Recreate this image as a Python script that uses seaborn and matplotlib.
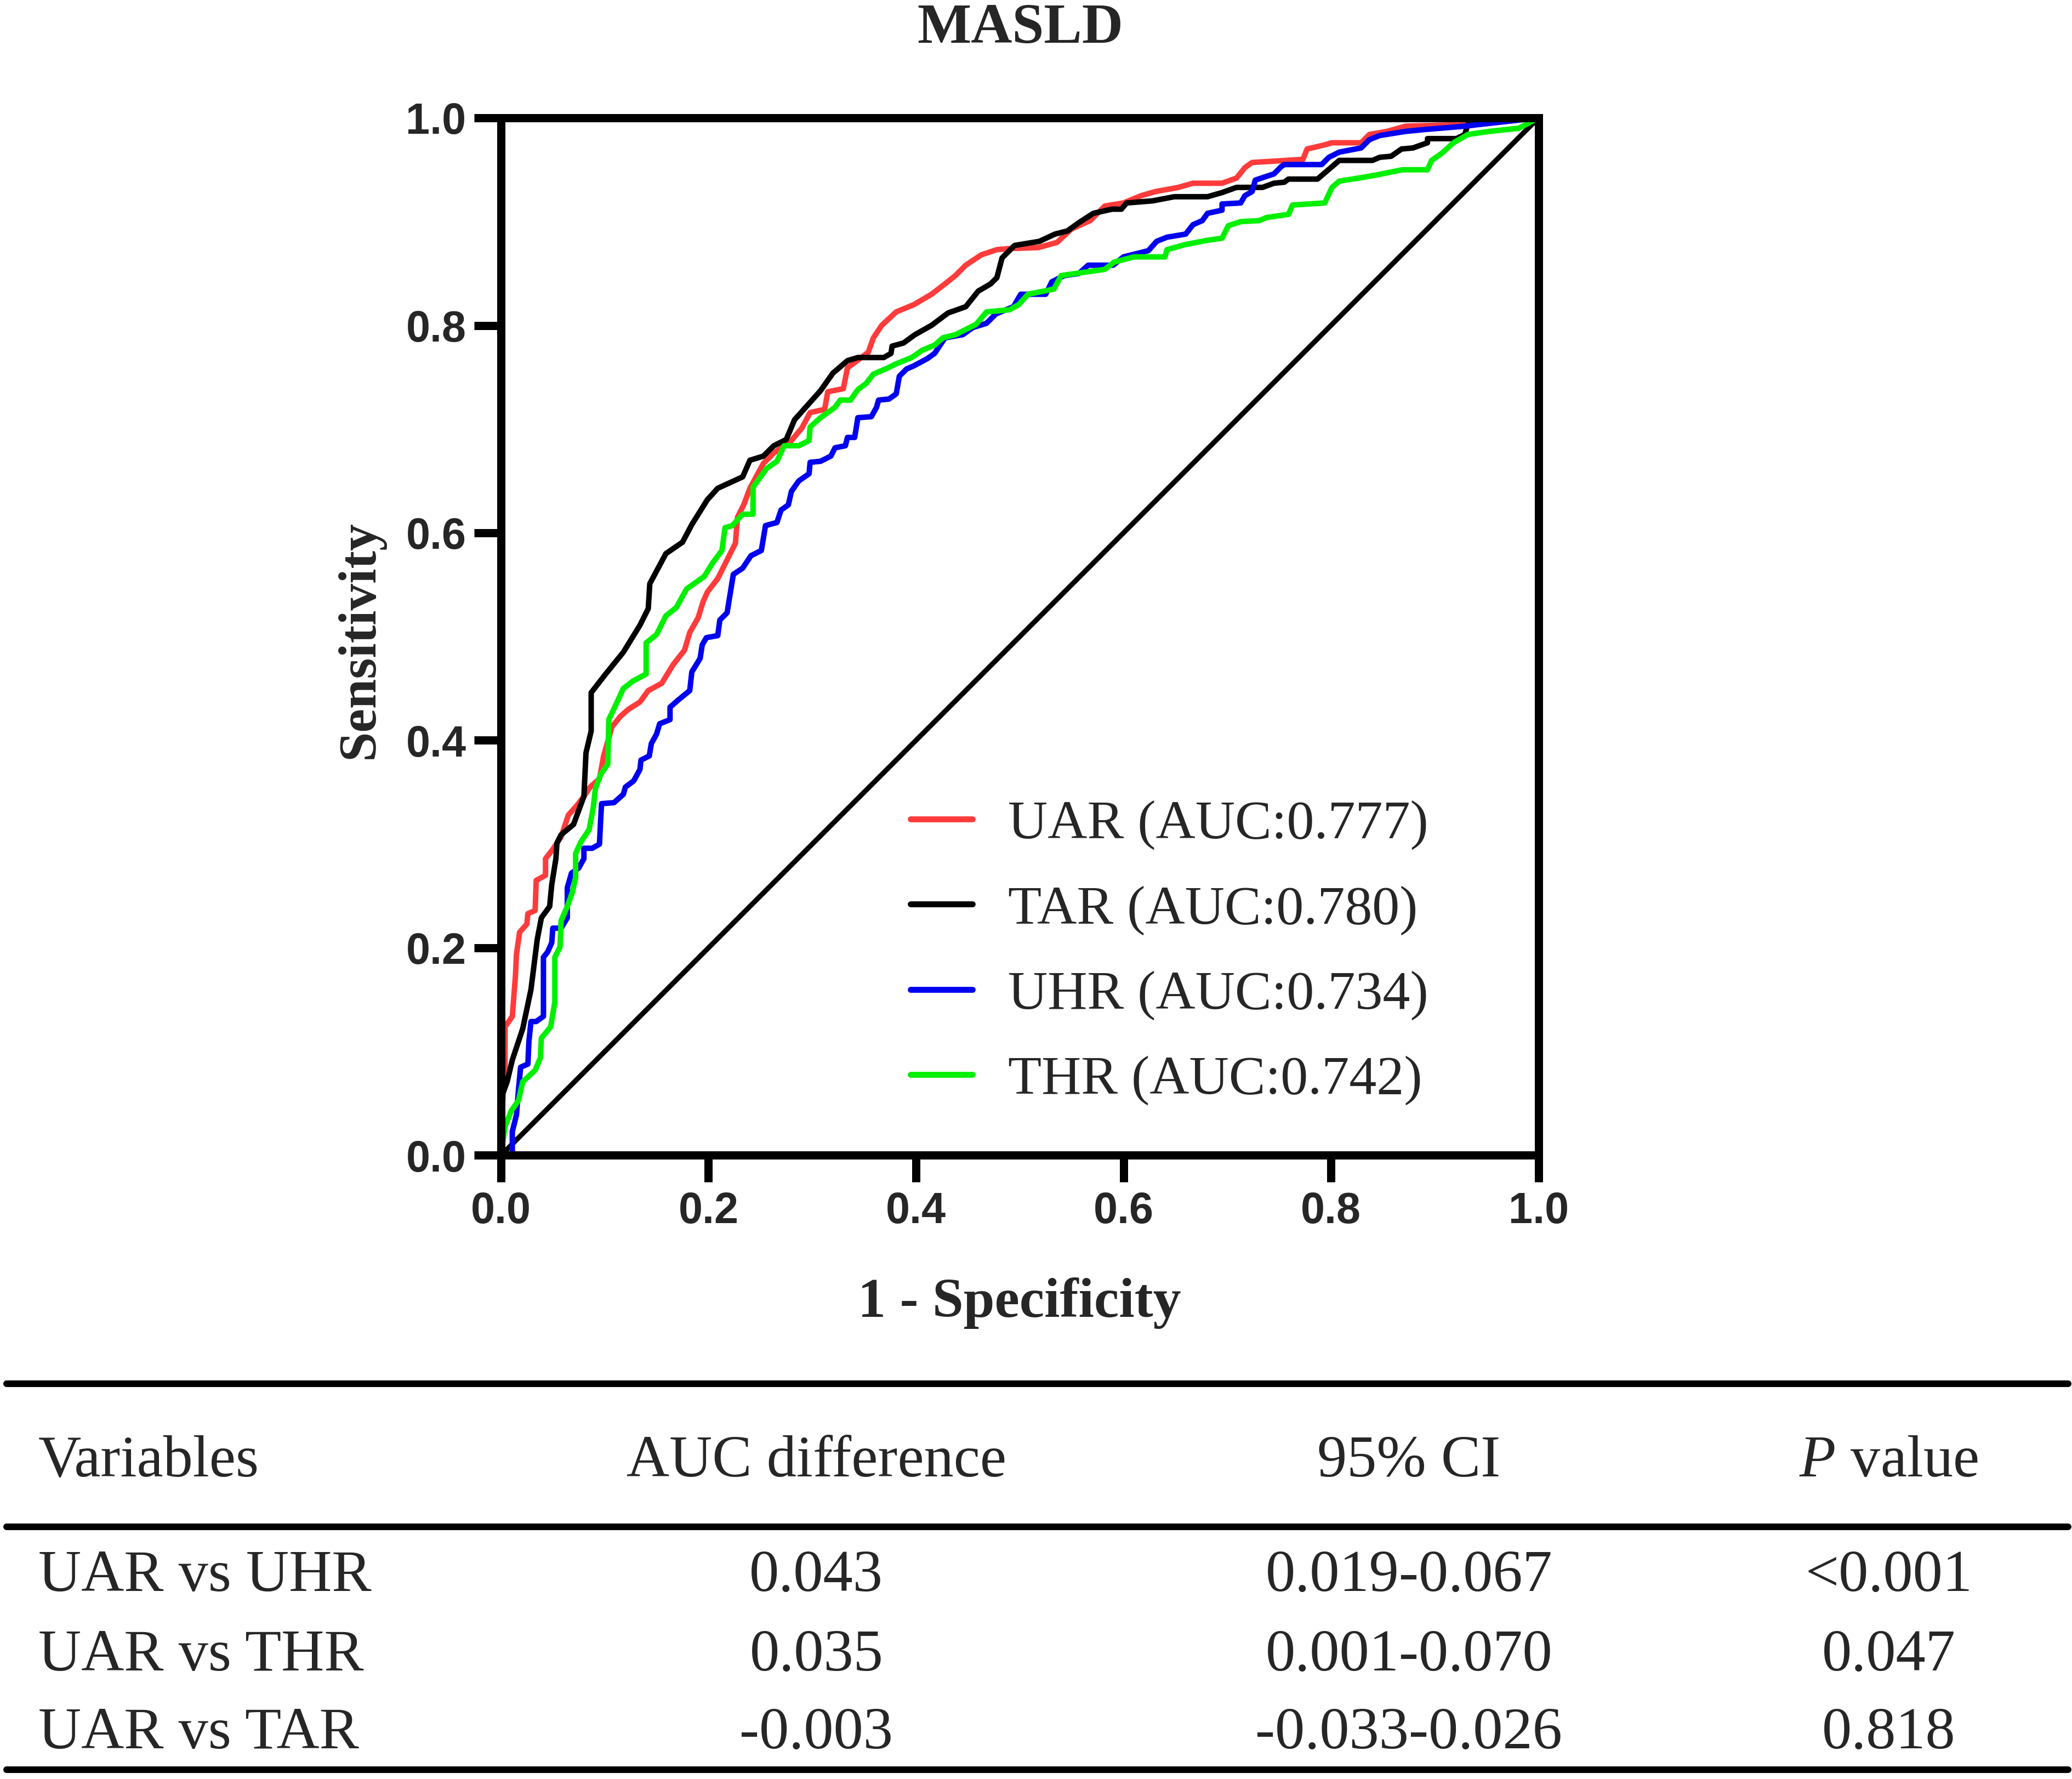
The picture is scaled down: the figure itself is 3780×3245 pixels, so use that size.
import seaborn as sns
import matplotlib.pyplot as plt
from matplotlib.lines import Line2D
from matplotlib.ticker import MultipleLocator, FormatStrFormatter

# ROC curves (1 - specificity, sensitivity)
uar_fpr = [0, 0.002, 0.004, 0.004, 0.011, 0.014, 0.015, 0.018, 0.025, 0.026, 0.033, 0.034, 0.043, 0.043,
           0.050, 0.058, 0.065, 0.073, 0.080, 0.086, 0.095, 0.099, 0.107, 0.115, 0.123, 0.134, 0.142, 0.155,
           0.166, 0.177, 0.182, 0.190, 0.195, 0.199, 0.209, 0.216, 0.226, 0.228, 0.234, 0.240, 0.253, 0.263,
           0.280, 0.290, 0.298, 0.312, 0.315, 0.330, 0.334, 0.354, 0.359, 0.367, 0.381, 0.398, 0.415, 0.428,
           0.438, 0.448, 0.463, 0.478, 0.490, 0.518, 0.536, 0.550, 0.568, 0.582, 0.600, 0.617, 0.631, 0.653,
           0.667, 0.695, 0.709, 0.717, 0.724, 0.773, 0.777, 0.794, 0.801, 0.829, 0.837, 0.854, 0.872, 0.945, 1.0]
uar_tpr = [0, 0.071, 0.076, 0.124, 0.134, 0.173, 0.194, 0.215, 0.223, 0.233, 0.236, 0.265, 0.270, 0.286,
           0.295, 0.307, 0.328, 0.337, 0.346, 0.355, 0.363, 0.385, 0.413, 0.423, 0.430, 0.437, 0.448, 0.455,
           0.473, 0.487, 0.504, 0.518, 0.534, 0.543, 0.556, 0.570, 0.590, 0.615, 0.627, 0.643, 0.667, 0.677,
           0.689, 0.701, 0.716, 0.719, 0.736, 0.739, 0.759, 0.774, 0.788, 0.800, 0.813, 0.820, 0.830, 0.840,
           0.848, 0.858, 0.868, 0.873, 0.874, 0.875, 0.880, 0.893, 0.901, 0.915, 0.918, 0.925, 0.929, 0.933,
           0.937, 0.937, 0.942, 0.952, 0.957, 0.960, 0.970, 0.974, 0.976, 0.976, 0.984, 0.987, 0.992, 0.994, 1.0]

tar_fpr = [0, 0.002, 0.006, 0.011, 0.021, 0.029, 0.035, 0.039, 0.047, 0.049, 0.053, 0.054, 0.058, 0.070,
           0.080, 0.082, 0.087, 0.087, 0.101, 0.118, 0.134, 0.142, 0.1435, 0.159, 0.175, 0.184, 0.199, 0.209,
           0.233, 0.240, 0.253, 0.263, 0.275, 0.283, 0.308, 0.320, 0.334, 0.344, 0.369, 0.376, 0.377, 0.388,
           0.399, 0.415, 0.431, 0.448, 0.460, 0.472, 0.478, 0.483, 0.495, 0.519, 0.534, 0.546, 0.557, 0.571,
           0.589, 0.598, 0.603, 0.628, 0.649, 0.681, 0.695, 0.709, 0.734, 0.745, 0.755, 0.759, 0.787, 0.794,
           0.808, 0.840, 0.847, 0.858, 0.868, 0.879, 0.893, 0.893, 0.921, 0.929, 0.932, 0.943, 1.0]
tar_tpr = [0, 0.060, 0.071, 0.092, 0.122, 0.160, 0.208, 0.229, 0.240, 0.261, 0.286, 0.301, 0.309, 0.319,
           0.346, 0.388, 0.409, 0.446, 0.464, 0.485, 0.511, 0.527, 0.551, 0.580, 0.591, 0.608, 0.632, 0.643,
           0.654, 0.670, 0.674, 0.684, 0.690, 0.709, 0.737, 0.754, 0.766, 0.769, 0.769, 0.773, 0.780, 0.783,
           0.791, 0.800, 0.812, 0.818, 0.833, 0.840, 0.846, 0.865, 0.877, 0.881, 0.888, 0.891, 0.899, 0.908,
           0.912, 0.912, 0.918, 0.920, 0.924, 0.924, 0.928, 0.933, 0.933, 0.937, 0.938, 0.941, 0.941, 0.947,
           0.959, 0.959, 0.962, 0.963, 0.970, 0.971, 0.976, 0.980, 0.980, 0.984, 0.994, 0.996, 1.0]

uhr_fpr = [0, 0.011, 0.011, 0.015, 0.017, 0.019, 0.026, 0.027, 0.029, 0.034, 0.041, 0.041, 0.045, 0.049,
           0.050, 0.058, 0.064, 0.064, 0.068, 0.075, 0.080, 0.080, 0.088, 0.095, 0.096, 0.097, 0.109, 0.118,
           0.120, 0.128, 0.134, 0.135, 0.143, 0.145, 0.150, 0.153, 0.163, 0.163, 0.171, 0.182, 0.184, 0.192,
           0.194, 0.198, 0.209, 0.211, 0.218, 0.224, 0.233, 0.241, 0.251, 0.255, 0.266, 0.270, 0.277, 0.280,
           0.287, 0.297, 0.298, 0.308, 0.318, 0.322, 0.332, 0.334, 0.341, 0.344, 0.357, 0.362, 0.364, 0.374,
           0.381, 0.384, 0.391, 0.398, 0.411, 0.418, 0.428, 0.445, 0.455, 0.468, 0.477, 0.494, 0.501, 0.525,
           0.531, 0.543, 0.557, 0.566, 0.590, 0.600, 0.624, 0.632, 0.642, 0.660, 0.667, 0.676, 0.681, 0.695,
           0.695, 0.713, 0.717, 0.724, 0.727, 0.745, 0.752, 0.755, 0.791, 0.798, 0.808, 0.829, 0.837, 0.847,
           0.872, 0.893, 0.929, 0.946, 1.0]
uhr_tpr = [0, 0.0, 0.023, 0.039, 0.064, 0.085, 0.088, 0.110, 0.129, 0.129, 0.134, 0.191, 0.196, 0.205,
           0.219, 0.219, 0.229, 0.258, 0.272, 0.277, 0.286, 0.296, 0.296, 0.300, 0.321, 0.339, 0.340, 0.348,
           0.355, 0.361, 0.372, 0.381, 0.385, 0.397, 0.406, 0.416, 0.420, 0.432, 0.439, 0.448, 0.466, 0.479,
           0.492, 0.499, 0.501, 0.516, 0.523, 0.560, 0.566, 0.578, 0.583, 0.607, 0.610, 0.622, 0.627, 0.640,
           0.650, 0.657, 0.668, 0.669, 0.674, 0.682, 0.684, 0.692, 0.692, 0.711, 0.712, 0.721, 0.728, 0.729,
           0.734, 0.751, 0.758, 0.761, 0.768, 0.773, 0.788, 0.791, 0.798, 0.802, 0.811, 0.818, 0.830, 0.830,
           0.842, 0.848, 0.850, 0.858, 0.858, 0.866, 0.872, 0.881, 0.885, 0.888, 0.897, 0.901, 0.908, 0.911,
           0.917, 0.918, 0.925, 0.929, 0.940, 0.946, 0.953, 0.955, 0.955, 0.962, 0.967, 0.971, 0.979, 0.983,
           0.987, 0.989, 0.992, 0.994, 1.0]

thr_fpr = [0, 0.004, 0.010, 0.017, 0.021, 0.033, 0.038, 0.039, 0.048, 0.052, 0.052, 0.057, 0.058, 0.064,
           0.069, 0.072, 0.072, 0.077, 0.085, 0.089, 0.091, 0.096, 0.103, 0.104, 0.112, 0.118, 0.127, 0.140,
           0.140, 0.150, 0.159, 0.169, 0.179, 0.196, 0.204, 0.213, 0.216, 0.223, 0.233, 0.243, 0.243, 0.256,
           0.266, 0.273, 0.287, 0.297, 0.298, 0.308, 0.322, 0.327, 0.337, 0.344, 0.352, 0.359, 0.373, 0.381,
           0.396, 0.406, 0.418, 0.426, 0.438, 0.458, 0.468, 0.490, 0.499, 0.508, 0.533, 0.540, 0.554, 0.582,
           0.591, 0.610, 0.640, 0.642, 0.660, 0.681, 0.695, 0.701, 0.713, 0.731, 0.738, 0.759, 0.763, 0.794,
           0.801, 0.808, 0.833, 0.844, 0.869, 0.893, 0.897, 0.907, 0.918, 0.932, 0.953, 0.981, 1.0]
thr_tpr = [0, 0.028, 0.043, 0.053, 0.071, 0.082, 0.094, 0.113, 0.124, 0.148, 0.191, 0.201, 0.226, 0.240,
           0.254, 0.268, 0.291, 0.302, 0.314, 0.335, 0.353, 0.367, 0.377, 0.420, 0.437, 0.450, 0.457, 0.464,
           0.494, 0.502, 0.520, 0.528, 0.546, 0.558, 0.571, 0.583, 0.605, 0.607, 0.618, 0.618, 0.644, 0.662,
           0.669, 0.684, 0.684, 0.689, 0.702, 0.711, 0.721, 0.728, 0.728, 0.738, 0.744, 0.753, 0.759, 0.763,
           0.769, 0.776, 0.781, 0.788, 0.791, 0.801, 0.813, 0.815, 0.820, 0.830, 0.835, 0.848, 0.850, 0.854,
           0.861, 0.866, 0.866, 0.873, 0.878, 0.882, 0.884, 0.896, 0.900, 0.901, 0.904, 0.907, 0.916, 0.918,
           0.933, 0.939, 0.943, 0.945, 0.950, 0.950, 0.959, 0.966, 0.976, 0.984, 0.987, 0.990, 1.0]

chance_line = [0, 1]

curve_names = ["UAR", "TAR", "UHR", "THR"]
curve_auc = ["0.777", "0.780", "0.734", "0.742"]
curve_colors = ["#FF3B3B", "#000000", "#0000F0", "#00F000"]

# comparison table below the chart
table_header = ["Variables", "AUC difference", "95% CI", r"$\mathit{P}$ value"]
table_vars = ["UAR vs UHR", "UAR vs THR", "UAR vs TAR"]
table_diff = ["0.043", "0.035", "-0.003"]
table_ci = ["0.019-0.067", "0.001-0.070", "-0.033-0.026"]
table_p = ["<0.001", "0.047", "0.818"]


def set_config():
    sns.set_style("white")
    plt.rcParams["font.family"] = ["Liberation Serif", "DejaVu Serif"]
    plt.rcParams["mathtext.fontset"] = "custom"
    plt.rcParams["mathtext.rm"] = "Liberation Serif"
    plt.rcParams["mathtext.it"] = "Liberation Serif:italic"


def draw_roc(fig):
    ax = fig.add_axes([0.24175, 0.35054, 0.50077, 0.5832])
    curves = [(uar_fpr, uar_tpr), (tar_fpr, tar_tpr), (uhr_fpr, uhr_tpr), (thr_fpr, thr_tpr)]

    sns.lineplot(x=chance_line, y=chance_line, color="black", lw=2.2, ax=ax, label="_nolegend_")
    for (fpr, tpr), name, auc, col in zip(curves, curve_names, curve_auc, curve_colors):
        sns.lineplot(x=fpr, y=tpr, sort=False, estimator=None, color=col, lw=2.4, ax=ax,
                     label="%s (AUC:%s)" % (name, auc))

    ax.set_xlim(0, 1)
    ax.set_ylim(0, 1)
    ax.xaxis.set_major_locator(MultipleLocator(0.2))
    ax.yaxis.set_major_locator(MultipleLocator(0.2))
    ax.xaxis.set_major_formatter(FormatStrFormatter("%.1f"))
    ax.yaxis.set_major_formatter(FormatStrFormatter("%.1f"))

    for s in ax.spines.values():
        s.set_linewidth(3.6)
        s.set_color("black")
    ax.tick_params(direction="out", length=11.7, width=3.6, color="black", bottom=True, left=True)
    ax.tick_params(axis="x", pad=4)
    ax.tick_params(axis="y", pad=3.5)
    for lab in ax.get_xticklabels() + ax.get_yticklabels():
        lab.set_fontfamily("Liberation Sans")
        lab.set_fontweight("bold")
        lab.set_fontsize(19)

    ax.set_xlabel("1 - Specificity", fontsize=24.5, fontweight="bold", va="baseline")
    ax.xaxis.set_label_coords(0.5, -0.1556)
    ax.set_ylabel("Sensitivity", fontsize=23.5, fontweight="bold")
    ax.yaxis.set_label_coords(-0.112, 0.497)

    leg = ax.legend(loc="center left", bbox_to_anchor=(0.3947, 0.1955), frameon=False, fontsize=24,
                    handlelength=1.13, handletextpad=0.65, labelspacing=0.64, borderpad=0,
                    borderaxespad=0)
    for h in leg.get_lines():
        h.set_linewidth(2.6)
    return ax


def draw_table(fig):
    line_kw = dict(color="black", lw=2.9, transform=fig.transFigure)
    for y in [0.22219, 0.14176, 0.00524]:
        fig.add_artist(Line2D([0.0032, 0.9981], [y, y], **line_kw))

    col_x = [0.0185, 0.394, 0.680, 0.9116]
    col_ha = ["left", "center", "center", "center"]
    for x, ha, txt in zip(col_x, col_ha, table_header):
        fig.text(x, 0.17011, txt, ha=ha, va="baseline", fontsize=26)

    row_y = [0.1057, 0.0610, 0.01726]
    for i, y in enumerate(row_y):
        cells = [table_vars[i], table_diff[i], table_ci[i], table_p[i]]
        for x, ha, txt in zip(col_x, col_ha, cells):
            fig.text(x, y, txt, ha=ha, va="baseline", fontsize=26)


def main():
    set_config()
    fig = plt.figure(figsize=(12.6, 10.8167), dpi=300)
    draw_roc(fig)
    fig.text(0.4923, 0.976, "MASLD", ha="center", va="baseline", fontsize=25, fontweight="bold")
    draw_table(fig)
    fig.savefig("out.png", dpi=300, facecolor="white")


if __name__ == "__main__":
    main()
